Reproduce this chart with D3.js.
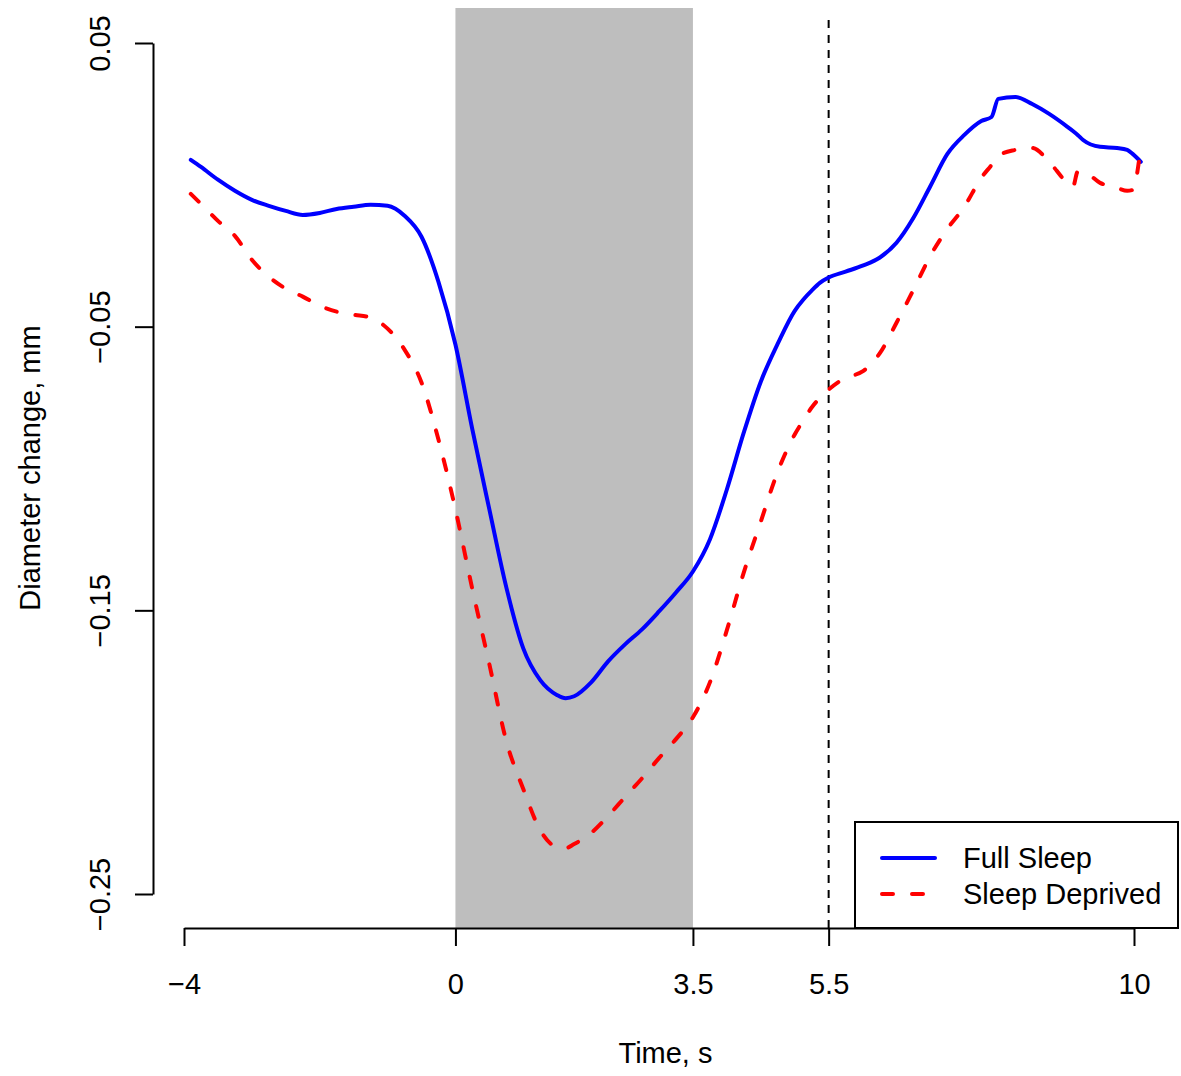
<!DOCTYPE html>
<html>
<head>
<meta charset="utf-8">
<script src="https://cdn.jsdelivr.net/npm/d3@7"></script>
<style>
body { margin: 0; background: #fff; }
svg text { font-family: "Liberation Sans", Arial, Helvetica, sans-serif; }
</style>
</head>
<body>
<div id="chart"></div>
<script>
// time (s) relative to stimulus onset
var time = [-3.9, -3.75, -3.5, -3.25, -3, -2.75, -2.5, -2.25, -2, -1.75, -1.5, -1.25, -1, -0.75, -0.5, -0.25,
    0, 0.25, 0.5, 0.75, 1, 1.25, 1.5, 1.625, 1.75, 2, 2.25, 2.5, 2.75, 3, 3.25, 3.5, 3.75, 4, 4.25, 4.5, 4.75,
    5, 5.125, 5.25, 5.375, 5.5, 5.75, 6, 6.25, 6.5, 6.75, 7, 7.25, 7.5, 7.75, 7.9, 8, 8.25, 8.5, 8.75, 9, 9.1, 9.17,
    9.25, 9.5, 9.75, 9.9, 9.98, 10.1];

// diameter change (mm)
var fullSleep = [0.0088, 0.0063, 0.0018, -0.0021, -0.0053, -0.0074, -0.0092, -0.0106, -0.0099, -0.0085,
    -0.0077, -0.0070, -0.0074, -0.0109, -0.0183, -0.0342,
    -0.0563, -0.0863, -0.1144, -0.1419, -0.1634, -0.1746, -0.1799, -0.1810, -0.1803, -0.1754, -0.1680,
    -0.1620, -0.1567, -0.1504, -0.1437, -0.1363, -0.1250, -0.1074, -0.0873, -0.0694, -0.0560,
    -0.0444, -0.0405, -0.0373, -0.0345, -0.0327, -0.0306, -0.0285, -0.0257, -0.0204, -0.0116, -0.0004,
    0.0109, 0.0176, 0.0225, 0.0239, 0.0303, 0.0310, 0.0285, 0.0250, 0.0208, 0.0190, 0.0176,
    0.0158, 0.0134, 0.0130, 0.0123, 0.0109, 0.0081];

var sleepDeprived = [-0.0032, -0.0067, -0.0127, -0.0180, -0.0264, -0.0324, -0.0366, -0.0394, -0.0426,
    -0.0447, -0.0458, -0.0468, -0.0507, -0.0581, -0.0697, -0.0898,
    -0.1144, -0.1426, -0.1690, -0.1961, -0.2130, -0.2275, -0.2335, -0.2338, -0.2324, -0.2285, -0.2225,
    -0.2158, -0.2092, -0.2021, -0.1954, -0.1877, -0.1754, -0.1570, -0.1366, -0.1187, -0.1011,
    -0.0880, -0.0831, -0.0785, -0.0750, -0.0722, -0.0680, -0.0658, -0.0595, -0.0486, -0.0370, -0.0250,
    -0.0155, -0.0077, 0.0025, 0.0070, 0.0102, 0.0123, 0.0130, 0.0081, 0.0011, -0.0007, 0.0046,
    0.0046, 0.0007, -0.0011, -0.0021, -0.0018, 0.0134];

var xTicks = [-4, 0, 3.5, 5.5, 10];
var yTicks = [0.05, -0.05, -0.15, -0.25];
var stimulus = [0, 3.5];
var marker = 5.5;
var seriesNames = ["Full Sleep", "Sleep Deprived"];
var seriesColors = ["#0000ff", "#ff0000"];

var width = 1181, height = 1076;
var plot = {left: 153, right: 1178, top: 8, bottom: 928};
var fontSize = 29;

var svg = d3.select("#chart").append("svg")
    .attr("width", width)
    .attr("height", height);

var x = d3.scaleLinear()
    .domain([-4, 10])
    .range([184, 1134]);
var y = d3.scaleLinear()
    .domain([-0.25, 0.05])
    .range([894, 43]);

// stimulus period
svg.append("rect")
    .attr("x", x(stimulus[0]))
    .attr("y", plot.top)
    .attr("width", x(stimulus[1]) - x(stimulus[0]))
    .attr("height", plot.bottom - plot.top)
    .attr("fill", "#bebebe");

// marker line
svg.append("line")
    .attr("x1", x(marker))
    .attr("x2", x(marker))
    .attr("y1", plot.bottom)
    .attr("y2", plot.top + 8)
    .attr("stroke", "#000")
    .attr("stroke-width", 2)
    .attr("stroke-dasharray", "8,7");

var line = d3.line()
    .x(function (d) { return x(d[0]); })
    .y(function (d) { return y(d[1]); })
    .curve(d3.curveMonotoneX);

svg.append("path")
    .datum(d3.zip(time, fullSleep))
    .attr("d", line)
    .attr("fill", "none")
    .attr("stroke", seriesColors[0])
    .attr("stroke-width", 4)
    .attr("stroke-linejoin", "round")
    .attr("stroke-linecap", "round");

svg.append("path")
    .datum(d3.zip(time, sleepDeprived))
    .attr("d", line)
    .attr("fill", "none")
    .attr("stroke", seriesColors[1])
    .attr("stroke-width", 4)
    .attr("stroke-linejoin", "round")
    .attr("stroke-linecap", "round")
    .attr("stroke-dasharray", "11,19");

// axes
var xAxis = svg.append("g")
    .attr("transform", "translate(0," + plot.bottom + ")")
    .call(d3.axisBottom(x)
        .tickValues(xTicks)
        .tickFormat(d3.format(""))
        .tickSize(18)
        .tickSizeOuter(0)
        .tickPadding(27));

var yAxis = svg.append("g")
    .attr("transform", "translate(" + plot.left + ",0)")
    .call(d3.axisLeft(y)
        .tickValues(yTicks)
        .tickFormat(d3.format(".2f"))
        .tickSize(18)
        .tickSizeOuter(0));

yAxis.selectAll(".tick text")
    .attr("x", 0)
    .attr("dy", 0)
    .attr("text-anchor", "middle")
    .attr("transform", "translate(-43,0) rotate(-90)");

[xAxis, yAxis].forEach(function (g) {
    g.attr("font-size", fontSize)
        .attr("font-family", null);
    g.selectAll("path, line")
        .attr("stroke", "#000")
        .attr("stroke-width", 2);
    g.selectAll("text").attr("fill", "#000");
});

// axis titles
svg.append("text")
    .attr("x", (plot.left + plot.right) / 2)
    .attr("y", 1063)
    .attr("text-anchor", "middle")
    .attr("font-size", fontSize)
    .text("Time, s");

svg.append("text")
    .attr("transform", "translate(40," + (plot.top + plot.bottom) / 2 + ") rotate(-90)")
    .attr("text-anchor", "middle")
    .attr("font-size", fontSize)
    .text("Diameter change, mm");

// legend
var legend = svg.append("g");
legend.append("rect")
    .attr("x", 855)
    .attr("y", 822)
    .attr("width", plot.right - 855)
    .attr("height", plot.bottom - 822)
    .attr("fill", "#fff")
    .attr("stroke", "#000")
    .attr("stroke-width", 2);

seriesNames.forEach(function (name, i) {
    var ly = 858 + i * 36;
    legend.append("line")
        .attr("x1", 882)
        .attr("x2", 935)
        .attr("y1", ly)
        .attr("y2", ly)
        .attr("stroke", seriesColors[i])
        .attr("stroke-width", 4)
        .attr("stroke-linecap", "round")
        .attr("stroke-dasharray", i === 1 ? "11,19" : null);
    legend.append("text")
        .attr("x", 963)
        .attr("y", ly + 10)
        .attr("font-size", fontSize)
        .text(name);
});
</script>
</body>
</html>
